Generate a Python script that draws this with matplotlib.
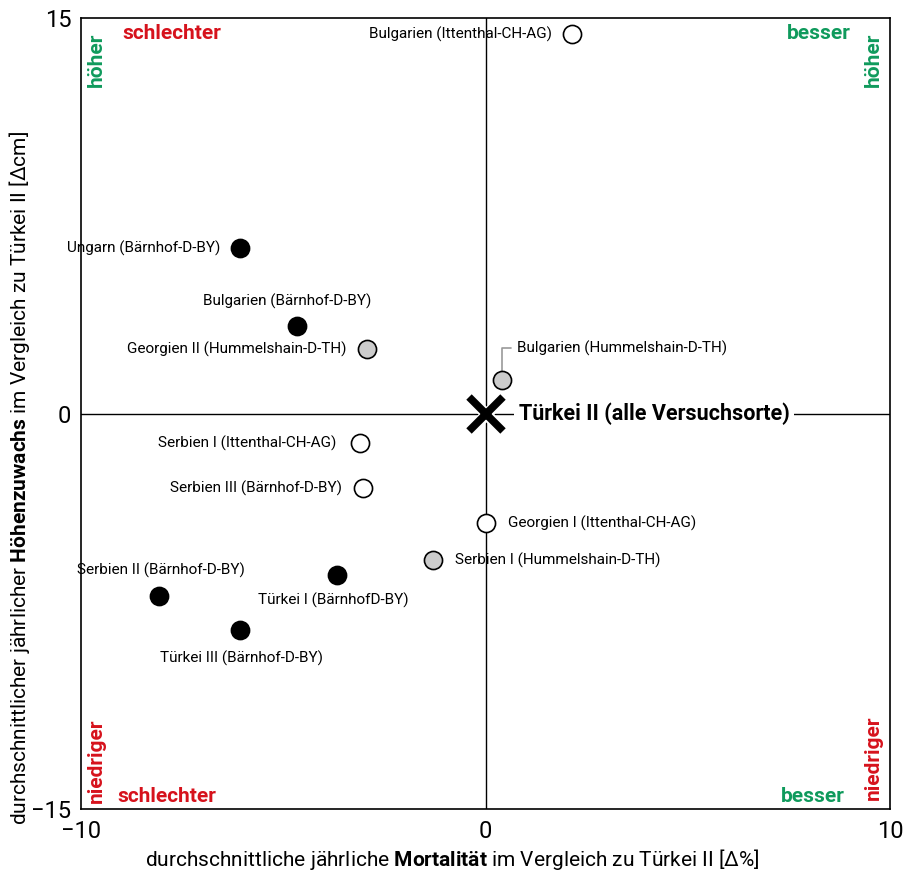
import matplotlib
matplotlib.use("Agg")
import matplotlib.pyplot as plt

plt.rcParams['font.family'] = ['Roboto', 'DejaVu Sans']
plt.rcParams['mathtext.fontset'] = 'custom'
plt.rcParams['mathtext.rm'] = 'Roboto'
plt.rcParams['mathtext.bf'] = 'Roboto:bold'

# Herkünfte: Mortalität (Δ%) und Höhenzuwachs (Δcm) relativ zu Türkei II
names = [
    "Bulgarien (Ittenthal-CH-AG)",
    "Ungarn (Bärnhof-D-BY)",
    "Bulgarien (Bärnhof-D-BY)",
    "Georgien II (Hummelshain-D-TH)",
    "Bulgarien (Hummelshain-D-TH)",
    "Serbien I (Ittenthal-CH-AG)",
    "Serbien III (Bärnhof-D-BY)",
    "Georgien I (Ittenthal-CH-AG)",
    "Serbien I (Hummelshain-D-TH)",
    "Türkei I (BärnhofD-BY)",
    "Serbien II (Bärnhof-D-BY)",
    "Türkei III (Bärnhof-D-BY)",
]
mortality = [2.13, -6.06, -4.67, -2.92, 0.40, -3.11, -3.02, 0.02, -1.29, -3.68, -8.06, -6.06]
growth = [14.39, 6.28, 3.32, 2.45, 1.27, -1.12, -2.83, -4.15, -5.56, -6.14, -6.93, -8.21]
site = ["Ittenthal", "Bärnhof", "Bärnhof", "Hummelshain", "Hummelshain", "Ittenthal",
        "Ittenthal", "Ittenthal", "Hummelshain", "Bärnhof", "Bärnhof", "Bärnhof"]

site_colors = {"Bärnhof": "black", "Hummelshain": "#cccccc", "Ittenthal": "white"}

# label offsets in pixels (dx, dy, ha)
offsets = [
    (-20, 0, "right"),
    (-20, 0, "right"),
    (-9, 25, "center"),
    (-21, 0, "right"),
    (15, 32, "left"),
    (-23, 0, "right"),
    (-21, 0, "right"),
    (22, 0, "left"),
    (22, 0, "left"),
    (-3, -25, "center"),
    (1, 26, "center"),
    (1, -28, "center"),
]

red = "#d6121c"
green = "#0f9a5c"

fig = plt.figure(figsize=(9.04, 8.77), dpi=100)
ax = fig.add_axes([0.0896, 0.0775, 0.895, 0.902])
ax.set_xlim(-10, 10)
ax.set_ylim(-15, 15)
ax.set_xticks([-10, 0, 10])
ax.set_yticks([-15, 0, 15])
ax.tick_params(length=0, labelsize=17)
ax.tick_params(axis="y", pad=7)
ax.tick_params(axis="x", pad=8)
for s in ax.spines.values():
    s.set_linewidth(1.2)

ax.axhline(0, color="black", lw=1, zorder=1)
ax.axvline(0, color="black", lw=1, zorder=1)

# leader line for Bulgarien (Hummelshain)
ax.annotate("", xy=(mortality[4], growth[4]), xycoords="data",
            xytext=(9, 32), textcoords="offset pixels",
            arrowprops=dict(arrowstyle="-", color="#999999", lw=1.2,
                            connectionstyle="angle,angleA=0,angleB=90,rad=0",
                            shrinkA=0, shrinkB=0), zorder=2)

for i in range(len(names)):
    ax.scatter(mortality[i], growth[i], s=170, color=site_colors[site[i]],
               edgecolor="black", linewidth=1.2, zorder=4)
    dx, dy, ha = offsets[i]
    ax.annotate(names[i], (mortality[i], growth[i]), xytext=(dx, dy),
                textcoords="offset pixels", ha=ha, va="center", fontsize=11, zorder=5)

# reference provenance
ax.plot(0, 0, marker="x", markersize=25, mew=8, color="white", zorder=5)
ax.plot(0, 0, marker="x", markersize=25, mew=5.5, color="black", zorder=6)
ax.annotate("Türkei II (alle Versuchsorte)", (0, 0), xytext=(33, 0),
            textcoords="offset pixels", ha="left", va="center", fontsize=15.5,
            fontweight="bold", zorder=6,
            bbox=dict(boxstyle="square,pad=0.2", fc="white", ec="none"))

# quadrant hints
kw = dict(transform=ax.transAxes, fontsize=15, fontweight="bold")
ax.text(0.051, 0.980, "schlechter", color=red, ha="left", va="center", **kw)
ax.text(0.951, 0.980, "besser", color=green, ha="right", va="center", **kw)
ax.text(0.0445, 0.0164, "schlechter", color=red, ha="left", va="center", **kw)
ax.text(0.944, 0.0164, "besser", color=green, ha="right", va="center", **kw)
ax.text(0.0185, 0.982, "höher", color=green, ha="center", va="top", rotation=90, **kw)
ax.text(0.979, 0.982, "höher", color=green, ha="center", va="top", rotation=90, **kw)
ax.text(0.0185, 0.0076, "niedriger", color=red, ha="center", va="bottom", rotation=90, **kw)
ax.text(0.979, 0.0114, "niedriger", color=red, ha="center", va="bottom", rotation=90, **kw)

fig.text(0.5, 0.006, r"durchschnittliche jährliche $\mathbf{Mortalität}$ im Vergleich zu Türkei II [Δ%]",
         ha="center", va="bottom", fontsize=15)
fig.text(0.022, 0.455, r"durchschnittlicher jährlicher $\mathbf{Höhenzuwachs}$ im Vergleich zu Türkei II [Δcm]",
         ha="center", va="center", rotation=90, fontsize=15)

fig.savefig("out.png", dpi=100)
